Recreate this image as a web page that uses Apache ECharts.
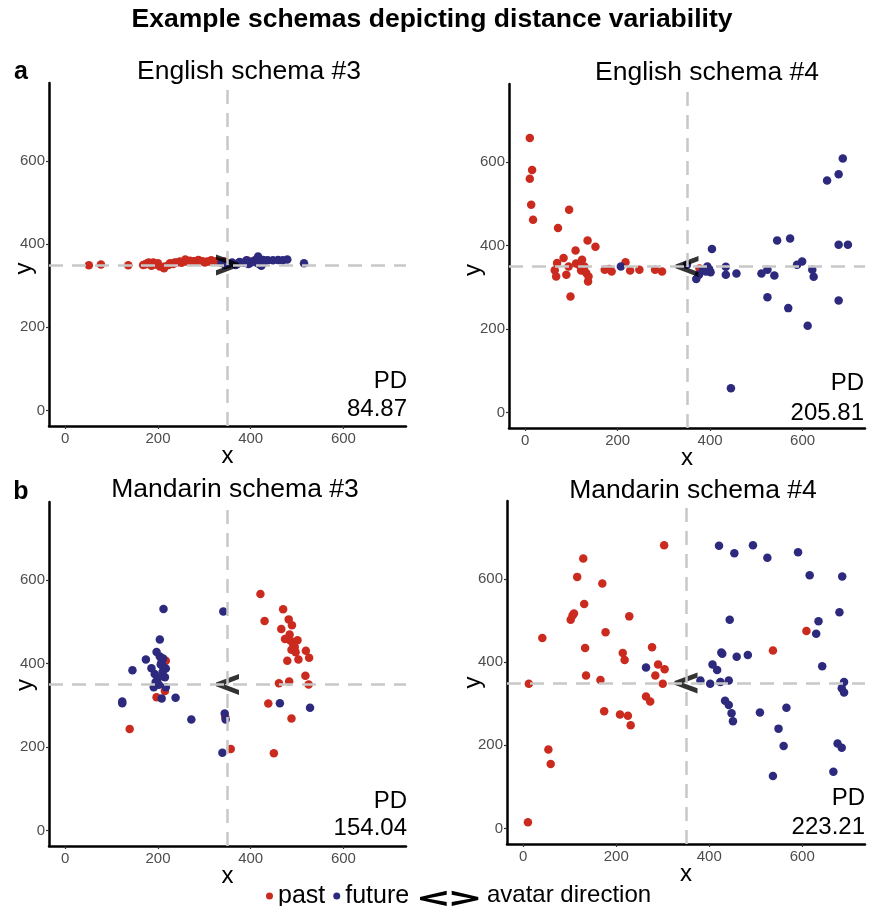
<!DOCTYPE html>
<html><head><meta charset="utf-8">
<script src="https://cdn.jsdelivr.net/npm/echarts@6/dist/echarts.min.js"></script>
<style>html,body{margin:0;padding:0;background:#fff}#chart{width:869px;height:906px}</style>
</head><body><div id="chart"></div>
<script>
// ---------- data ----------
const xTicks = [0, 200, 400, 600];
const yTicks = [0, 200, 400, 600];
const panelTitles = ['English schema #3', 'English schema #4', 'Mandarin schema #3', 'Mandarin schema #4'];
const pdValues = ['84.87', '205.81', '154.04', '223.21'];
const avatarDirection = ['>', '<', '<', '<'];
const avatarPosition = [350, 350];
const centerLines = [350, 350];

const pastA = [[51,349],[77,351],[136,349],[168,350],[172,351],[177,354],[180,356],[186,348],[190,356],[195,351],[200,354],[204,346],[213,342],[215,346],[223,350],[226,354],[233,352],[236,356],[241,356],[247,358],[251,355],[259,363],[260,358],[269,360],[277,359],[280,359],[287,362],[290,360],[296,359],[301,356],[306,358],[312,358],[315,361],[326,359],[335,357],[344,358],[376,356],[394,360]];
const futureA = [[337,355],[345,350],[352,352],[360,356],[368,350],[372,353],[376,357],[385,355],[391,361],[395,352],[398,354],[405,359],[410,362],[412,356],[416,370],[418,352],[420,358],[423,348],[427,362],[428,355],[432,360],[437,361],[448,361],[459,362],[469,361],[479,363],[515,354]];

const pastB = [[10,658],[15,581],[10,560],[13,498],[17,462],[71,442],[95,486],[69,358],[83,370],[64,341],[67,326],[89,330],[94,350],[98,278],[109,388],[110,357],[118,352],[123,366],[121,340],[128,350],[132,334],[135,412],[137,326],[136,314],[152,397],[172,342],[182,344],[187,338],[217,360],[227,340],[247,342],[281,342],[296,338],[377,345]];
const futureB = [[207,350],[350,354],[370,320],[376,330],[385,342],[391,338],[394,350],[398,343],[401,336],[404,392],[434,349],[434,330],[457,333],[511,333],[524,342],[539,328],[524,276],[545,412],[569,250],[573,417],[588,354],[599,362],[611,208],[621,342],[624,325],[653,556],[678,571],[687,609],[678,402],[698,402],[678,268],[445,58]];

const pastC = [[421,567],[430,502],[470,530],[482,506],[489,492],[466,483],[484,470],[474,459],[501,456],[492,445],[488,433],[497,427],[519,431],[526,414],[503,410],[479,407],[518,371],[461,353],[483,357],[525,350],[438,304],[488,268],[450,185],[357,195],[345,272],[139,243],[197,319],[215,334],[217,407],[486,455],[495,440]];
const futureC = [[212,531],[341,525],[204,458],[197,428],[174,410],[145,384],[186,389],[193,375],[204,417],[208,405],[211,393],[217,388],[200,365],[195,356],[191,343],[217,343],[208,316],[238,318],[123,309],[123,305],[272,266],[344,280],[346,266],[339,186],[463,305],[528,294],[210,380],[215,367],[202,349],[211,412],[206,398]];

const pastD = [[10,15],[12,348],[41,458],[54,190],[59,155],[102,502],[106,512],[109,517],[116,605],[129,649],[131,540],[133,434],[135,368],[166,357],[170,589],[174,282],[177,472],[208,274],[214,422],[218,405],[225,271],[228,510],[231,248],[264,317],[273,305],[277,436],[284,368],[290,394],[300,348],[304,383],[303,681],[537,428],[609,475]];
const futureD = [[264,387],[381,356],[402,348],[407,394],[417,381],[424,352],[428,420],[426,423],[442,356],[444,502],[459,413],[483,417],[434,307],[442,297],[448,277],[451,258],[509,279],[566,290],[549,240],[560,198],[537,126],[421,680],[454,662],[494,681],[525,651],[591,664],[616,609],[635,498],[630,468],[643,390],[686,606],[680,520],[690,352],[685,337],[690,327],[667,136],[676,204],[685,194]];

// ---------- build ----------
const pastAll = [pastA, pastB, pastC, pastD];
const futureAll = [futureA, futureB, futureC, futureD];
const FONT = '"Liberation Sans", Arial, Helvetica, sans-serif';
const RED = '#CB2B1F', BLUE = '#2D2A7E';
const grids = [
  {left: 49, top: 83, width: 357, height: 343, outerBoundsMode: 'none', containLabel: false},
  {left: 509, top: 84, width: 356, height: 344, outerBoundsMode: 'none', containLabel: false},
  {left: 49, top: 502, width: 357, height: 344, outerBoundsMode: 'none', containLabel: false},
  {left: 507, top: 501, width: 358, height: 343, outerBoundsMode: 'none', containLabel: false}
];
const yNameGap = [13, 24, 12, 22];
const yNameShift = [28, 28, 22, 20];
const titlePos = [[249, 72], [707, 73], [235, 490], [693, 491]];
const pdPos = [[407, 381, 409], [864, 383, 413], [407, 801, 828], [865, 798, 827]];
const CHEV_R = 'path://M0,0 L22,8.2 L22,11.8 L0,20 L0,15.2 L13.8,10 L0,4.8 Z';
const CHEV_L = 'path://M22,0 L0,8.2 L0,11.8 L22,20 L22,15.2 L8.2,10 L22,4.8 Z';

const xAxis = [], yAxis = [], series = [], graphic = [];
grids.forEach((g, i) => {
  xAxis.push({
    gridIndex: i, type: 'value', min: -35, max: 735,
    axisLine: {show: true, onZero: false, lineStyle: {color: '#000', width: 2.5}},
    axisTick: {show: true, customValues: xTicks, length: 3, lineStyle: {color: '#333', width: 1.2}},
    axisLabel: {customValues: xTicks, color: '#4D4D4D', fontSize: 15, margin: 5, fontFamily: FONT},
    splitLine: {show: false},
    name: 'x', nameLocation: 'middle', nameGap: 18, nameMoveOverlap: false,
    nameTextStyle: {fontSize: 24, color: '#000', fontFamily: FONT}
  });
  yAxis.push({
    gridIndex: i, type: 'value', min: -37.5, max: 787.5,
    axisLine: {show: true, onZero: false, lineStyle: {color: '#000', width: 2.5}},
    axisTick: {show: true, customValues: yTicks, length: 3, lineStyle: {color: '#333', width: 1.2}},
    axisLabel: {customValues: yTicks, color: '#4D4D4D', fontSize: 15, margin: 4, fontFamily: FONT},
    splitLine: {show: false},
    name: 'y', nameLocation: 'middle', nameGap: yNameGap[i], nameMoveOverlap: false,
    nameTextStyle: {fontSize: 24, color: '#000', fontFamily: FONT, padding: [0, yNameShift[i], 0, 0]}
  });
  series.push({
    type: 'scatter', xAxisIndex: i, yAxisIndex: i, data: [], z: 1, silent: true,
    markLine: {
      silent: true, symbol: 'none', label: {show: false}, animation: false,
      lineStyle: {type: [14, 9], color: '#C8C8C8', width: 2.5},
      data: [{xAxis: centerLines[0]}, {yAxis: centerLines[1]}]
    }
  });
  series.push({
    type: 'scatter', name: 'past', xAxisIndex: i, yAxisIndex: i, data: pastAll[i],
    symbolSize: 8.5, itemStyle: {color: RED, opacity: 1}, z: 2
  });
  series.push({
    type: 'scatter', name: 'future', xAxisIndex: i, yAxisIndex: i, data: futureAll[i],
    symbolSize: 8.5, itemStyle: {color: BLUE, opacity: 1}, z: 3
  });
  series.push({
    type: 'scatter', name: 'avatar', xAxisIndex: i, yAxisIndex: i, data: [avatarPosition],
    symbol: avatarDirection[i] === '>' ? CHEV_R : CHEV_L, symbolSize: [23, 21],
    itemStyle: {color: '#000'}, z: 4, silent: true
  });
  graphic.push({type: 'text', x: titlePos[i][0], y: titlePos[i][1],
    style: {text: panelTitles[i], font: '26.5px ' + FONT, fill: '#000',
      textAlign: 'center', textVerticalAlign: 'middle', align: 'center', verticalAlign: 'middle'}});
  graphic.push({type: 'text', x: pdPos[i][0], y: pdPos[i][1],
    style: {text: 'PD', font: '24px ' + FONT, fill: '#000',
      textAlign: 'right', textVerticalAlign: 'middle', align: 'right', verticalAlign: 'middle'}});
  graphic.push({type: 'text', x: pdPos[i][0], y: pdPos[i][2],
    style: {text: pdValues[i], font: '24px ' + FONT, fill: '#000',
      textAlign: 'right', textVerticalAlign: 'middle', align: 'right', verticalAlign: 'middle'}});
});

graphic.push({type: 'text', x: 432, y: 20,
  style: {text: 'Example schemas depicting distance variability', font: 'bold 26.5px ' + FONT, fill: '#000',
    textAlign: 'center', textVerticalAlign: 'middle', align: 'center', verticalAlign: 'middle'}});
graphic.push({type: 'text', x: 21, y: 72,
  style: {text: 'a', font: 'bold 25px ' + FONT, fill: '#000',
    textAlign: 'center', textVerticalAlign: 'middle', align: 'center', verticalAlign: 'middle'}});
graphic.push({type: 'text', x: 21, y: 492,
  style: {text: 'b', font: 'bold 25px ' + FONT, fill: '#000',
    textAlign: 'center', textVerticalAlign: 'middle', align: 'center', verticalAlign: 'middle'}});
// legend key for avatar direction
graphic.push({type: 'polygon', shape: {points: [[446.7,890.7],[420,897],[420,900],[446.7,906],[446.7,902],[427,898.5],[446.7,894.7]]}, style: {fill: '#000'}});
graphic.push({type: 'polygon', shape: {points: [[451.7,890.7],[478.3,897],[478.3,900],[451.7,906],[451.7,902],[471.3,898.5],[451.7,894.7]]}, style: {fill: '#000'}});
graphic.push({type: 'text', x: 487, y: 895,
  style: {text: 'avatar direction', font: '24px ' + FONT, fill: '#000',
    textAlign: 'left', textVerticalAlign: 'middle', align: 'left', verticalAlign: 'middle'}});

const chart = echarts.init(document.getElementById('chart'), null, {renderer: 'canvas'});
chart.setOption({
  animation: false,
  backgroundColor: '#fff',
  textStyle: {fontFamily: FONT},
  grid: grids,
  xAxis: xAxis,
  yAxis: yAxis,
  legend: {
    data: ['past', 'future'], left: 266, top: 883.5, padding: 0, itemGap: 8,
    itemWidth: 7, itemHeight: 7, icon: 'circle', selectedMode: false,
    textStyle: {fontSize: 25, color: '#000', fontFamily: FONT}
  },
  series: series,
  graphic: graphic
});
</script></body></html>
